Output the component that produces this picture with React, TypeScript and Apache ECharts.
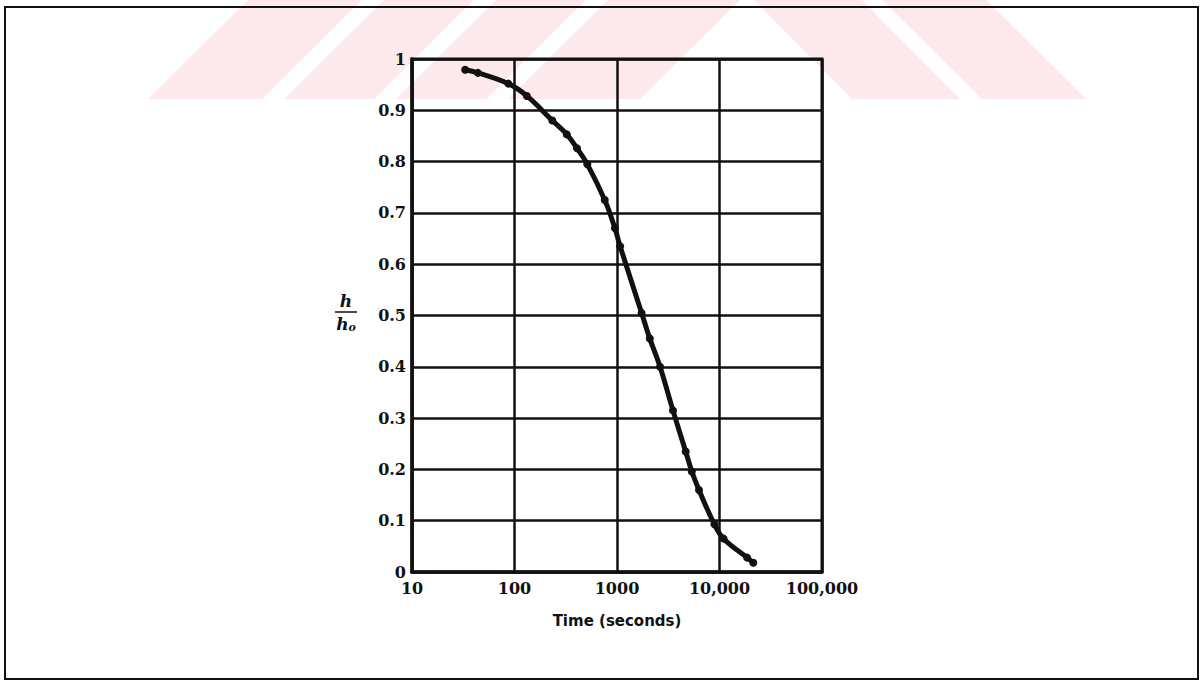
import React, { useEffect, useRef } from "react";
import * as echarts from "echarts";

// Time (seconds) of each plotted point
const times = [33, 44, 87, 132, 234, 324, 407, 513, 759, 955, 1072, 1738, 2089, 2630, 3516, 4677, 5370, 6310, 8913, 10965, 18621, 21380];
// h / h0 ratio at each time
const ratios = [0.979, 0.973, 0.952, 0.928, 0.88, 0.853, 0.826, 0.795, 0.725, 0.67, 0.635, 0.505, 0.455, 0.4, 0.315, 0.235, 0.196, 0.16, 0.093, 0.065, 0.028, 0.018];
// tick labels
const xTickLabels: Record<number, string> = { 10: "10", 100: "100", 1000: "1000", 10000: "10,000", 100000: "100,000" };
const yTickLabels = ["0", "0.1", "0.2", "0.3", "0.4", "0.5", "0.6", "0.7", "0.8", "0.9", "1"];

const PINK = "#fde8ec";

function stripe(bl: number, br: number, shift: number, yTop: number, yBot: number) {
  return [[bl, yBot], [br, yBot], [br + shift, yTop], [bl + shift, yTop]];
}

export default function App() {
  const ref = useRef<HTMLDivElement>(null);
  useEffect(() => {
    document.body.style.margin = "0";
    const chart = echarts.init(ref.current!, null, { renderer: "svg" });
    const data = times.map((t, i) => [t, ratios[i]]);
    const wmTop = 0, wmBot = 99;
    const leftStripes = [
      stripe(148, 262, 100, wmTop, wmBot),
      stripe(284, 374, 100, wmTop, wmBot),
      stripe(396, 486, 100, wmTop, wmBot),
      stripe(508, 640, 100, wmTop, wmBot),
    ];
    const rightStripes = [
      stripe(852, 960, -98, wmTop, wmBot),
      stripe(982, 1086, -100, wmTop, wmBot),
    ];
    const watermark = [...leftStripes, ...rightStripes].map((pts) => ({
      type: "polygon",
      z: -10,
      silent: true,
      shape: { points: pts },
      style: { fill: PINK },
    }));
    chart.setOption({
      animation: false,
      backgroundColor: "#ffffff",
      textStyle: { fontFamily: "DejaVu Serif" },
      grid: {
        left: 412,
        top: 59,
        width: 410,
        height: 513,
        show: true,
        borderColor: "#111",
        borderWidth: 3,
        backgroundColor: "transparent",
      },
      xAxis: {
        type: "log",
        logBase: 10,
        min: 10,
        max: 100000,
        name: "Time (seconds)",
        nameLocation: "middle",
        nameGap: 41,
        nameTextStyle: { fontFamily: "DejaVu Sans", fontWeight: "bold", fontSize: 15, color: "#111" },
        axisLine: { show: true, lineStyle: { color: "#111", width: 3.5 } },
        axisTick: { show: false },
        splitLine: { show: true, lineStyle: { color: "#111", width: 2.5 } },
        axisLabel: {
          color: "#111",
          fontFamily: "DejaVu Serif",
          fontWeight: "bold",
          fontSize: 16,
          margin: 8,
          formatter: (v: number) => xTickLabels[Math.round(v)] ?? String(v),
        },
      },
      yAxis: {
        type: "value",
        min: 0,
        max: 1,
        interval: 0.1,
        axisLine: { show: true, lineStyle: { color: "#111", width: 3.5 } },
        axisTick: { show: false },
        splitLine: { show: true, lineStyle: { color: "#111", width: 2.5 } },
        axisLabel: {
          color: "#111",
          fontFamily: "DejaVu Serif",
          fontWeight: "bold",
          fontSize: 16,
          margin: 6,
          formatter: (v: number) => yTickLabels[Math.round(v * 10)] ?? String(v),
        },
      },
      series: [
        {
          type: "line",
          data,
          smooth: 0.4,
          symbol: "circle",
          symbolSize: 8,
          showSymbol: true,
          lineStyle: { color: "#111", width: 5 },
          itemStyle: { color: "#111" },
          z: 5,
        },
      ],
      graphic: [
        ...watermark,
        {
          type: "rect",
          silent: true,
          shape: { x: 5, y: 7, width: 1193, height: 672 },
          style: { fill: "none", stroke: "#111", lineWidth: 2 },
          z: 1,
        },
        {
          type: "text",
          x: 346,
          y: 301,
          style: { text: "h", font: "italic bold 17px 'DejaVu Serif'", fill: "#111", align: "center", verticalAlign: "middle" },
        },
        {
          type: "line",
          shape: { x1: 335, y1: 312, x2: 357, y2: 312 },
          style: { stroke: "#111", lineWidth: 1.5 },
        },
        {
          type: "text",
          x: 346,
          y: 324,
          style: {
            text: "{a|h}{b|o}",
            align: "center",
            verticalAlign: "middle",
            rich: {
              a: { font: "italic bold 17px 'DejaVu Serif'", fill: "#111" } as any,
              b: { font: "italic bold 11px 'DejaVu Serif'", fill: "#111", padding: [6, 0, 0, 0] } as any,
            },
          },
        },
      ],
    });
    return () => chart.dispose();
  }, []);
  return <div ref={ref} style={{ width: 1204, height: 680 }} />;
}
